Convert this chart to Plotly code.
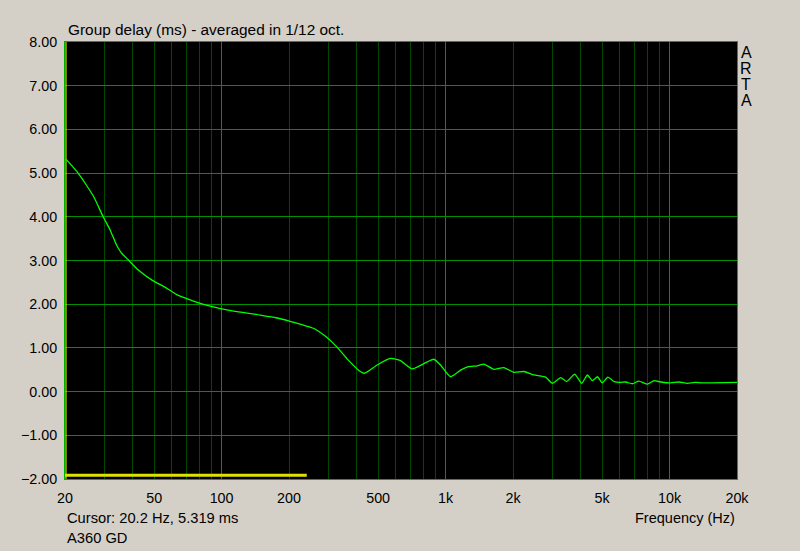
import plotly.graph_objects as go

# ---- data ----
freq_hz = [20.2, 22.9, 26.8, 29.6, 31.8, 34.0, 35.9, 38.4, 42.5, 48.9, 55.9, 63.1, 80.3,
           105.6, 148.8, 175, 199, 232, 257, 290, 326, 368, 416, 435, 495, 567, 629,
           709, 828, 886, 949, 1052, 1167, 1263, 1385, 1483, 1643, 1821, 2018, 2237,
           2479, 2797, 2996, 3265, 3474, 3770, 4052, 4298, 4523, 4765, 5010, 5300,
           5651, 6000, 6371, 6820, 7297, 7967, 8529, 9130, 10125, 11000, 12000, 13000,
           14000, 20000]
group_delay_ms = [5.32, 5.00, 4.47, 4.00, 3.70, 3.35, 3.16, 3.01, 2.78, 2.55, 2.39, 2.22, 2.02,
                  1.87, 1.75, 1.69, 1.62, 1.52, 1.45, 1.27, 1.03, 0.72, 0.46, 0.42, 0.61, 0.76, 0.71,
                  0.52, 0.68, 0.74, 0.61, 0.34, 0.49, 0.57, 0.59, 0.63, 0.51, 0.55, 0.44, 0.46,
                  0.38, 0.33, 0.19, 0.32, 0.23, 0.40, 0.19, 0.38, 0.25, 0.34, 0.20, 0.33,
                  0.23, 0.21, 0.22, 0.18, 0.24, 0.17, 0.25, 0.22, 0.20, 0.22, 0.19, 0.21,
                  0.20, 0.21]

x_tick_vals = [20, 50, 100, 200, 500, 1000, 2000, 5000, 10000, 20000]
x_tick_text = ["20", "50", "100", "200", "500", "1k", "2k", "5k", "10k", "20k"]
x_decade_vals = [100, 1000, 10000]
x_minor_vals = [30, 40, 50, 60, 70, 80, 90, 200, 300, 400, 500, 600, 700, 800, 900,
                2000, 3000, 4000, 5000, 6000, 7000, 8000, 9000]
y_tick_vals = [-2, -1, 0, 1, 2, 3, 4, 5, 6, 7, 8]

cursor_freq = 20.2
cursor_value = 5.319
range_marker_freq = [20, 240]
range_marker_level = [-1.915, -1.915]

BG = "#d4d0c8"
MAJOR = "#009000"
MINOR = "#004a00"
FRAME = "#00b000"
FONT = "Liberation Sans, Arial, sans-serif"
XRANGE = [1.30103, 4.30103]

fig = go.Figure()

fig.add_trace(go.Scatter(x=range_marker_freq, y=range_marker_level, mode="lines",
                         line=dict(color="#e0e000", width=3), hoverinfo="skip",
                         showlegend=False))
fig.add_trace(go.Scatter(x=[cursor_freq, cursor_freq], y=[y_tick_vals[0], y_tick_vals[-1]],
                         mode="lines", line=dict(color="#e0e000", width=1.2),
                         hoverinfo="skip", showlegend=False))
fig.add_trace(go.Scatter(x=freq_hz, y=group_delay_ms, mode="lines",
                         line=dict(color="#00ff00", width=1.3, shape="spline", smoothing=0.5),
                         showlegend=False))
# dummy trace for the overlay axis carrying the tick labels
fig.add_trace(go.Scatter(x=[20, 20000], y=[None, None], xaxis="x2", mode="lines",
                         showlegend=False, hoverinfo="skip"))

fig.update_layout(
    template="none",
    width=800, height=551,
    margin=dict(l=65, r=63, t=42, b=72),
    paper_bgcolor=BG, plot_bgcolor="black",
    font=dict(family=FONT, size=14.3, color="black"),
    xaxis=dict(type="log", range=XRANGE, tickvals=x_decade_vals, showticklabels=False,
               showgrid=True, gridcolor=MAJOR, gridwidth=1, zeroline=False, ticks="",
               showline=True, mirror=True, linecolor=FRAME, linewidth=1,
               minor=dict(tickmode="array", tickvals=x_minor_vals, showgrid=True,
                          gridcolor=MINOR, gridwidth=1, ticks="")),
    xaxis2=dict(type="log", range=XRANGE, overlaying="x", side="bottom", anchor="y",
                tickvals=x_tick_vals, ticktext=x_tick_text, showgrid=False,
                zeroline=False, showline=False,
                ticks="outside", ticklen=6, tickcolor="rgba(0,0,0,0)",
                tickfont=dict(size=14.3)),
    yaxis=dict(range=[-2, 8], tickvals=y_tick_vals, tickformat=".2f",
               showgrid=True, gridcolor=MAJOR, gridwidth=1, zeroline=False,
               ticks="outside", ticklen=4, tickcolor="rgba(0,0,0,0)",
               showline=True, mirror=True, linecolor=FRAME, linewidth=1,
               tickfont=dict(size=14.3)),
)

fig.add_annotation(text="Group delay (ms) - averaged in 1/12 oct.", xref="paper", yref="paper",
                   x=0, y=1, xshift=1, yshift=2, xanchor="left", yanchor="bottom",
                   showarrow=False, font=dict(size=15.4))
for i, ch in enumerate("ARTA"):
    fig.add_annotation(text=ch, xref="paper", yref="paper", x=1, y=1,
                       xshift=9, yshift=-(10 + 16 * i), xanchor="center", yanchor="middle",
                       showarrow=False, font=dict(size=16))
fig.add_annotation(text=f"Cursor: {cursor_freq} Hz, {cursor_value:.3f} ms", xref="paper",
                   yref="paper", x=0, y=0, yshift=-39, xanchor="left", yanchor="middle",
                   showarrow=False, font=dict(size=14.7))
fig.add_annotation(text="A360 GD", xref="paper", yref="paper", x=0, y=0, yshift=-59,
                   xanchor="left", yanchor="middle", showarrow=False, font=dict(size=14.7))
fig.add_annotation(text="Frequency (Hz)", xref="paper", yref="paper", x=1, y=0,
                   yshift=-39, xanchor="right", yanchor="middle", showarrow=False,
                   font=dict(size=14.5))

fig.write_html("out.html",
               config={"displayModeBar": False},
               post_script="document.body.style.margin='0px';"
                           "document.body.style.background='#d4d0c8';")
